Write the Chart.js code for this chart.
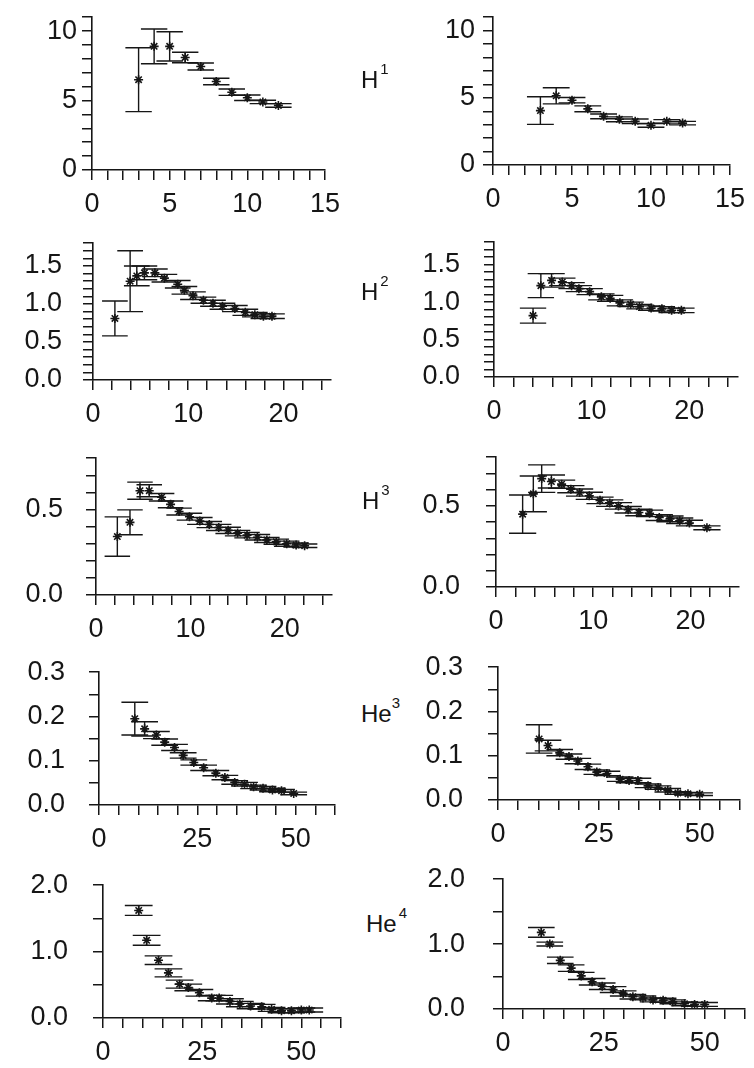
<!DOCTYPE html>
<html>
<head>
<meta charset="utf-8">
<script src="https://cdn.jsdelivr.net/npm/chart.js@4.4.0/dist/chart.umd.min.js"></script>
<style>
  html, body { margin: 0; padding: 0; background: #fff; width: 754px; height: 1068px; overflow: hidden; }
  body { position: relative; font-family: "Liberation Sans", Arial, sans-serif; }
  canvas { position: absolute; }
  .lbl { position: absolute; font-size: 24px; line-height: 24px; color: #151515; white-space: nowrap; }
  .lbl sup { font-size: 15px; vertical-align: 0; position: relative; top: -14px; margin-left: 2px; }
</style>
</head>
<body>
<div class="lbl" style="left:361px;top:68px">H<sup>1</sup></div>
<div class="lbl" style="left:361px;top:280px">H<sup>2</sup></div>
<div class="lbl" style="left:362px;top:489px">H<sup>3</sup></div>
<div class="lbl" style="left:361px;top:702px">He<sup style="margin-left:0">3</sup></div>
<div class="lbl" style="left:366px;top:912px">He<sup>4</sup></div>

<script>
// ---- data: x, y, half-height of error bar ----
// H1
const h1LeftX   = [3, 4, 5, 6, 7, 8, 9, 10, 11, 12];
const h1LeftY   = [6.5, 8.9, 8.9, 8.1, 7.45, 6.37, 5.6, 5.2, 4.9, 4.65];
const h1LeftErr = [2.3, 1.25, 1.05, 0.38, 0.25, 0.23, 0.23, 0.2, 0.12, 0.13];
const h1RightX   = [3, 4, 5, 6, 7, 8, 9, 10, 11, 12];
const h1RightY   = [4.05, 5.15, 4.82, 4.18, 3.62, 3.4, 3.25, 2.95, 3.25, 3.12];
const h1RightErr = [1.03, 0.6, 0.2, 0.22, 0.18, 0.18, 0.17, 0.14, 0.13, 0.13];
// H2
const h2LeftX   = [2.3, 3.9, 4.6, 5.4, 6.5, 7.5, 8.9, 9.6, 10.5, 11.6, 12.6, 13.6, 14.9, 16, 17, 17.9, 18.8];
const h2LeftY   = [0.81, 1.30, 1.37, 1.41, 1.41, 1.34, 1.26, 1.18, 1.11, 1.05, 1.01, 0.97, 0.94, 0.89, 0.86, 0.84, 0.84];
const h2LeftErr = [0.23, 0.40, 0.13, 0.09, 0.05, 0.05, 0.05, 0.05, 0.05, 0.04, 0.04, 0.04, 0.04, 0.04, 0.03, 0.03, 0.03];
const h2RightX   = [4, 4.8, 5.9, 7.0, 7.95, 8.7, 9.8, 11.0, 11.9, 12.9, 14.0, 14.9, 16.1, 17.2, 18.2, 19.2];
const h2RightY   = [0.82, 1.22, 1.29, 1.27, 1.22, 1.18, 1.14, 1.07, 1.05, 0.99, 0.97, 0.94, 0.92, 0.91, 0.89, 0.89];
const h2RightErr = [0.10, 0.16, 0.09, 0.05, 0.04, 0.04, 0.04, 0.04, 0.04, 0.04, 0.03, 0.03, 0.03, 0.03, 0.03, 0.03];
// H3
const h3LeftX   = [2.26, 3.6, 4.66, 5.64, 6.95, 7.9, 8.8, 9.9, 11.0, 12.0, 13, 14, 15, 16, 17.1, 18.1, 19.1, 20.2, 21.2, 22.1];
const h3LeftY   = [0.342, 0.425, 0.61, 0.61, 0.572, 0.53, 0.488, 0.458, 0.433, 0.412, 0.395, 0.378, 0.362, 0.35, 0.338, 0.322, 0.312, 0.30, 0.292, 0.288];
const h3LeftErr = [0.115, 0.073, 0.05, 0.035, 0.022, 0.02, 0.02, 0.02, 0.02, 0.018, 0.018, 0.018, 0.016, 0.016, 0.016, 0.015, 0.015, 0.015, 0.012, 0.01];
const h3RightX   = [2.74, 3.84, 4.7, 5.7, 6.75, 7.7, 8.6, 9.6, 10.7, 11.7, 12.6, 13.6, 14.7, 15.8, 16.8, 17.9, 18.9, 19.9, 21.7];
const h3RightY   = [0.449, 0.574, 0.668, 0.65, 0.634, 0.603, 0.582, 0.562, 0.534, 0.517, 0.5, 0.476, 0.459, 0.454, 0.428, 0.42, 0.408, 0.394, 0.365];
const h3RightErr = [0.118, 0.11, 0.085, 0.04, 0.025, 0.022, 0.022, 0.022, 0.02, 0.02, 0.02, 0.02, 0.02, 0.02, 0.018, 0.018, 0.017, 0.017, 0.012];
// He3
const he3LeftX   = [9.1, 11.6, 14.6, 16.7, 19.2, 21.4, 24.1, 26.6, 29.7, 32, 34.5, 37, 39.3, 41.7, 44.1, 46.4, 49.5];
const he3LeftY   = [0.195, 0.172, 0.158, 0.142, 0.13, 0.112, 0.096, 0.084, 0.072, 0.062, 0.051, 0.047, 0.041, 0.038, 0.034, 0.032, 0.026];
const he3LeftErr = [0.037, 0.016, 0.008, 0.007, 0.007, 0.006, 0.006, 0.006, 0.006, 0.005, 0.004, 0.004, 0.004, 0.004, 0.004, 0.003, 0.003];
const he3RightX   = [10.2, 12.4, 15.3, 17.6, 19.8, 22.3, 24.5, 27, 30.3, 32.5, 34.7, 37.2, 39.7, 42.1, 44.6, 47.1, 50];
const he3RightY   = [0.138, 0.123, 0.107, 0.098, 0.088, 0.075, 0.063, 0.06, 0.047, 0.044, 0.044, 0.032, 0.028, 0.022, 0.016, 0.014, 0.013];
const he3RightErr = [0.032, 0.012, 0.007, 0.006, 0.006, 0.006, 0.005, 0.005, 0.005, 0.005, 0.005, 0.004, 0.004, 0.004, 0.003, 0.003, 0.003];
// He4
const he4LeftX   = [9, 11, 14, 16.5, 19.3, 21.5, 24.3, 27.4, 29.3, 32, 34.5, 37.2, 40, 42.5, 45, 47.5, 50, 52];
const he4LeftY   = [1.62, 1.17, 0.87, 0.68, 0.51, 0.46, 0.38, 0.30, 0.30, 0.25, 0.21, 0.18, 0.17, 0.13, 0.11, 0.11, 0.12, 0.12];
const he4LeftErr = [0.075, 0.075, 0.065, 0.06, 0.06, 0.05, 0.05, 0.04, 0.04, 0.04, 0.04, 0.04, 0.035, 0.03, 0.03, 0.03, 0.03, 0.03];
const he4RightX   = [9.5, 11.6, 14.2, 16.9, 19.4, 22.1, 24.6, 27.3, 29.8, 32.2, 34.7, 37.2, 39.7, 42.1, 45, 47.5, 50];
const he4RightY   = [1.18, 1.0, 0.75, 0.63, 0.51, 0.42, 0.35, 0.30, 0.24, 0.19, 0.17, 0.14, 0.135, 0.11, 0.08, 0.07, 0.07];
const he4RightErr = [0.075, 0.03, 0.05, 0.05, 0.055, 0.05, 0.05, 0.045, 0.04, 0.035, 0.03, 0.03, 0.03, 0.03, 0.03, 0.03, 0.03];

// tick labels
const h1XTicks = [0, 5, 10, 15],   h1YTicks = [0, 5, 10];
const h2XTicks = [0, 10, 20],      h2YTicks = [0, 0.5, 1.0, 1.5];
const h3XTicks = [0, 10, 20],      h3YTicks = [0, 0.5];
const he3XTicks = [0, 25, 50],     he3YTicks = [0, 0.1, 0.2, 0.3];
const he4XTicks = [0, 25, 50],     he4YTicks = [0, 1.0, 2.0];

// panel layout: box = [axis left px, axis right px, y=0 px, y=max px]
const panels = [
  { x: h1LeftX, y: h1LeftY, err: h1LeftErr, cap: 0.85, xMax: 15, xStep: 1, yMax: 11, yStep: 1, xt: h1XTicks, yt: h1YTicks, dec: 0, pad: 5, box: [92, 332, 170, 12] },
  { x: h1RightX, y: h1RightY, err: h1RightErr, cap: 0.85, xMax: 15, xStep: 1, yMax: 11, yStep: 1, xt: h1XTicks, yt: h1YTicks, dec: 0, pad: 8, box: [493, 737, 165, 9] },
  { x: h2LeftX, y: h2LeftY, err: h2LeftErr, cap: 1.35, xMax: 25, xStep: 2, yMax: 1.8, yStep: 0.1, xt: h2XTicks, yt: h2YTicks, dec: 1, pad: 21, box: [93, 331, 380, 222] },
  { x: h2RightX, y: h2RightY, err: h2RightErr, cap: 1.35, xMax: 25, xStep: 2, yMax: 1.8, yStep: 0.1, xt: h2XTicks, yt: h2YTicks, dec: 1, pad: 24, box: [494, 738, 377, 218] },
  { x: h3LeftX, y: h3LeftY, err: h3LeftErr, cap: 1.35, xMax: 25, xStep: 2, yMax: 0.8, yStep: 0.1, xt: h3XTicks, yt: h3YTicks, dec: 1, pad: 23, box: [96, 332, 595, 435] },
  { x: h3RightX, y: h3RightY, err: h3RightErr, cap: 1.4, xMax: 25, xStep: 2, yMax: 0.8, yStep: 0.1, xt: h3XTicks, yt: h3YTicks, dec: 1, pad: 26, box: [496, 739, 587, 431] },
  { x: he3LeftX, y: he3LeftY, err: he3LeftErr, cap: 3.4, xMax: 60, xStep: 5, yMax: 0.3, yStep: 0.05, xt: he3XTicks, yt: he3YTicks, dec: 1, pad: 24, box: [99, 335, 805, 648] },
  { x: he3RightX, y: he3RightY, err: he3RightErr, cap: 3.3, xMax: 60, xStep: 5, yMax: 0.3, yStep: 0.05, xt: he3XTicks, yt: he3YTicks, dec: 1, pad: 25, box: [498, 740, 800, 642] },
  { x: he4LeftX, y: he4LeftY, err: he4LeftErr, cap: 3.5, xMax: 60, xStep: 5, yMax: 2.0, yStep: 0.5, xt: he4XTicks, yt: he4YTicks, dec: 1, pad: 25, box: [103, 341, 1018, 860] },
  { x: he4RightX, y: he4RightY, err: he4RightErr, cap: 3.3, xMax: 60, xStep: 5, yMax: 2.0, yStep: 0.5, xt: he4XTicks, yt: he4YTicks, dec: 1, pad: 28, box: [503, 745, 1009, 851] }
];

const INK = '#161616';
const LEFT = 80, TOP = 16, RIGHT = 16, BOTTOM = 55;

// vertical error bar with wide caps, drawn under the stars
const errorBars = {
  id: 'errorBars',
  beforeDatasetsDraw(chart) {
    const ds = chart.data.datasets[0];
    const xs = chart.scales.x, ys = chart.scales.y;
    const ctx = chart.ctx;
    ctx.save();
    ctx.strokeStyle = INK;
    ctx.lineWidth = 1.4;
    ds.data.forEach((p, i) => {
      const e = ds.errY[i];
      const px = xs.getPixelForValue(p.x);
      const top = ys.getPixelForValue(p.y + e), bot = ys.getPixelForValue(p.y - e);
      const l = xs.getPixelForValue(p.x - ds.capW), r = xs.getPixelForValue(p.x + ds.capW);
      ctx.beginPath();
      ctx.moveTo(px, top); ctx.lineTo(px, bot);
      ctx.moveTo(l, top); ctx.lineTo(r, top);
      ctx.moveTo(l, bot); ctx.lineTo(r, bot);
      ctx.stroke();
    });
    ctx.restore();
  }
};

function tickLabel(v, list, dec) {
  return list.some(t => Math.abs(t - v) < 1e-6) ? Number(v).toFixed(dec) : '';
}

function axisStyle() {
  return {
    border: { color: INK, width: 1.6 },
    grid: { drawOnChartArea: false, tickLength: 10, color: INK, lineWidth: 1.5 }
  };
}

panels.forEach(p => {
  const [ax, axR, y0, yTop] = p.box;
  const canvas = document.createElement('canvas');
  canvas.width = axR - ax + LEFT + RIGHT;
  canvas.height = y0 - yTop + TOP + BOTTOM;
  canvas.style.left = (ax - LEFT) + 'px';
  canvas.style.top = (yTop - TOP) + 'px';
  document.body.insertBefore(canvas, document.body.firstChild);

  new Chart(canvas.getContext('2d'), {
    type: 'scatter',
    data: {
      datasets: [{
        data: p.x.map((x, i) => ({ x: x, y: p.y[i] })),
        errY: p.err,
        capW: p.cap,
        pointStyle: 'star',
        pointRadius: 4.5,
        borderColor: INK,
        borderWidth: 1.6,
        showLine: false
      }]
    },
    options: {
      responsive: false,
      animation: false,
      events: [],
      layout: { padding: { left: 0, top: TOP, right: RIGHT, bottom: 0 } },
      plugins: { legend: { display: false }, tooltip: { enabled: false } },
      scales: {
        x: {
          type: 'linear', min: 0, max: p.xMax,
          afterFit: s => { s.height = BOTTOM; },
          ...axisStyle(),
          ticks: {
            stepSize: p.xStep, autoSkip: false, includeBounds: false, maxRotation: 0, padding: 8,
            color: INK, font: { family: 'Liberation Sans', size: 27 },
            callback: v => tickLabel(v, p.xt, 0)
          }
        },
        y: {
          type: 'linear', min: 0, max: p.yMax,
          afterFit: s => { s.width = LEFT; },
          ...axisStyle(),
          ticks: {
            stepSize: p.yStep, autoSkip: false, includeBounds: false, padding: p.pad,
            color: INK, font: { family: 'Liberation Sans', size: 27 },
            callback: v => tickLabel(v, p.yt, p.dec)
          }
        }
      }
    },
    plugins: [errorBars]
  });
});
</script>
</body>
</html>
